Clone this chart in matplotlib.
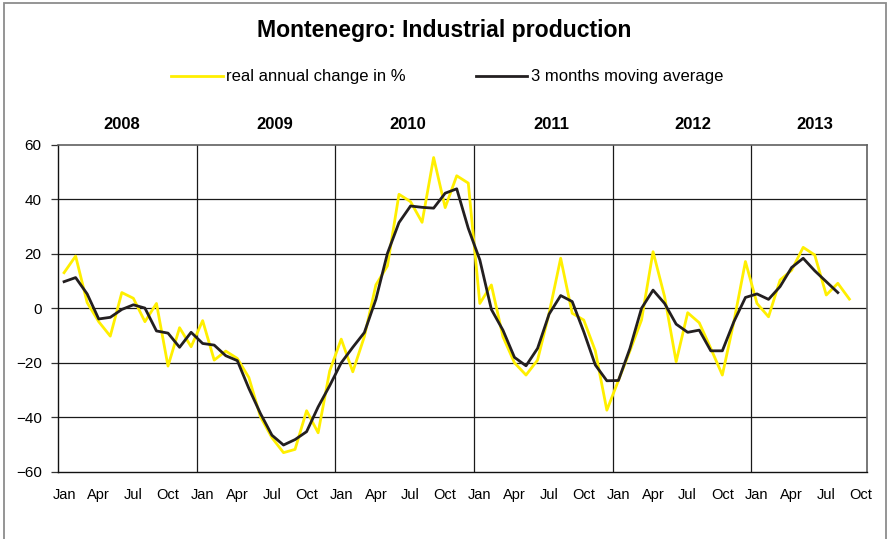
import matplotlib
matplotlib.use("Agg")
import matplotlib.pyplot as plt
import matplotlib.patches as mpatches
from matplotlib.transforms import blended_transform_factory

plt.rcParams['font.family'] = ['Liberation Sans', 'DejaVu Sans']

# monthly data, Jan 2008 onwards
real_change = [
    13.1, 19.2, 2.1, -4.9, -10.2, 5.8, 3.7, -4.9, 1.8, -21.2, -7.1, -14.1,       # 2008
    -4.5, -19.0, -15.7, -18.4, -25.4, -39.8, -47.5, -53.0, -51.8, -37.6, -45.7, -23.0,  # 2009
    -11.3, -23.3, -10.4, 8.6, 15.6, 41.9, 39.2, 31.6, 55.4, 37.0, 48.7, 46.0,    # 2010
    1.8, 8.6, -10.4, -20.0, -24.5, -19.0, -1.8, 18.4, -1.8, -4.3, -15.6, -37.4,  # 2011
    -26.5, -15.6, -4.3, 20.8, 4.3, -19.6, -1.6, -5.3, -14.7, -24.5, -4.9, 17.2,  # 2012
    1.8, -3.1, 10.4, 14.0, 22.4, 19.6, 4.9, 9.2, 3.4,                            # 2013
]
moving_avg = [
    9.8, 11.3, 5.3, -3.9, -3.3, -0.4, 1.3, 0.1, -8.3, -9.1, -14.3, -8.8,
    -12.9, -13.5, -17.4, -19.2, -29.4, -38.6, -46.6, -50.2, -48.2, -45.3, -36.2, -28.4,
    -20.0, -14.3, -8.9, 3.3, 20.2, 31.5, 37.6, 37.1, 36.8, 42.3, 43.9, 29.4,
    17.8, -0.4, -8.0, -18.0, -21.1, -14.7, -2.1, 4.7, 2.5, -8.6, -20.8, -26.6,
    -26.5, -14.7, 0.0, 6.7, 1.8, -5.8, -8.8, -8.0, -15.6, -15.6, -4.9, 4.0,
    5.3, 3.3, 8.0, 15.0, 18.4, 13.8, 9.8, 5.8,
]
years = ['2008', '2009', '2010', '2011', '2012', '2013']
year_label_pos = [5.0, 18.25, 29.8, 42.2, 54.4, 65.0]
month_names = ['Jan', 'Apr', 'Jul', 'Oct']
n_months = 70  # Jan 2008 .. Oct 2013

fig = plt.figure(figsize=(8.88, 5.39), dpi=100)
fig.patch.set_facecolor('white')

# outer frame
frame = mpatches.Rectangle((4 / 888, -0.01), 882 / 888, 1 - 3 / 539 + 0.01,
                           transform=fig.transFigure, fill=False,
                           ec='#8c8c8c', lw=1.3)
fig.patches.append(frame)

ax = fig.add_axes([58.3 / 888, 67.3 / 539, 808.4 / 888, 326.7 / 539])

ax.plot(range(len(real_change)), real_change, color='#FFEF00', lw=2.0,
        label='real annual change in %', zorder=3)
ax.plot(range(len(moving_avg)), moving_avg, color='#231F20', lw=2.0,
        label='3 months moving average', zorder=4)

ax.set_xlim(-0.5, n_months - 0.5)
ax.set_ylim(-60, 60)
ax.set_yticks(range(-60, 61, 20))
ax.tick_params(axis='y', direction='out', length=5, width=0.9, pad=7,
               labelsize=11, color='#333333')

xt = list(range(0, n_months, 3))
ax.set_xticks(xt)
ax.set_xticklabels([month_names[(i // 3) % 4] for i in xt])
ax.tick_params(axis='x', length=0, pad=12, labelsize=10.5)

# grid
for v in range(-40, 60, 20):
    ax.axhline(v, color='#1a1a1a', lw=0.9, zorder=1)
for b in range(12, n_months, 12):
    ax.axvline(b - 0.5, color='#1a1a1a', lw=0.9, zorder=1)

for side in ['left', 'bottom']:
    ax.spines[side].set_color('#111111')
    ax.spines[side].set_linewidth(1.0)
for side in ['top', 'right']:
    ax.spines[side].set_color('#606060')
    ax.spines[side].set_linewidth(1.2)

# year labels above plot
trans = blended_transform_factory(ax.transData, ax.transAxes)
for pos, yr in zip(year_label_pos, years):
    ax.text(pos, 1.062, yr, transform=trans, ha='center', va='center',
            fontsize=12, fontweight='bold')

fig.text(0.5, 1 - 31 / 539, 'Montenegro: Industrial production',
         ha='center', va='center', fontsize=16.6, fontweight='bold')

fig.legend(loc='center', bbox_to_anchor=(447 / 888, 1 - 77 / 539), ncol=2,
           frameon=False, fontsize=12, handlelength=3.1, handletextpad=0.2,
           columnspacing=4.2)

fig.savefig('out.png', dpi=100)
